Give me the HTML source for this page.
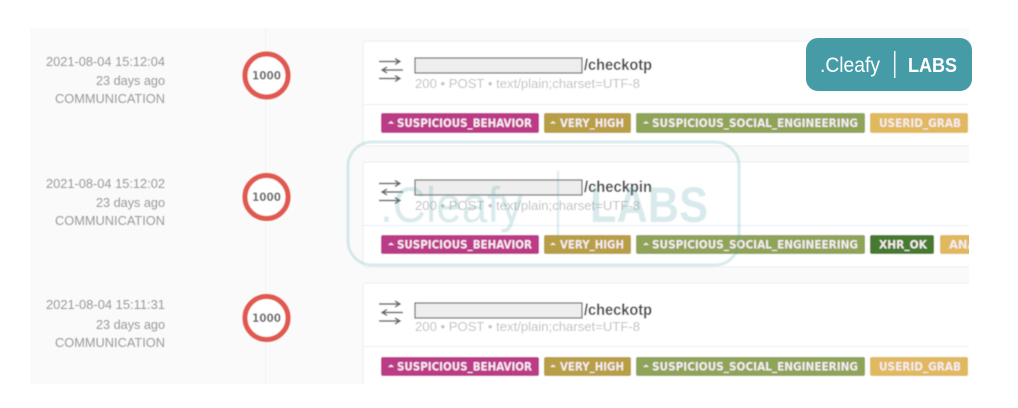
<!DOCTYPE html>
<html lang="en">
<head>
<meta charset="utf-8">
<style>
html,body{margin:0;padding:0;background:#fff;width:1018px;height:408px;overflow:hidden}
svg{display:block}
text{font-family:"Liberation Sans",sans-serif}
.meta{font-size:12.500px;fill:#9a9a9a;text-anchor:end}
.sub{font-size:13px;fill:#c2c2c2}
.url{font-size:15.500px;font-weight:bold;fill:#4a4a4a}
.tag{font-family:"DejaVu Sans",sans-serif;font-size:11.500px;font-weight:bold;fill:#f6ecf2}
.num{font-family:"DejaVu Sans",sans-serif;font-size:11.500px;font-weight:bold;fill:#666}
</style>
</head>
<body>
<svg width="1018" height="408" viewBox="0 0 1018 408" xmlns="http://www.w3.org/2000/svg">
<defs>
<filter id="b" x="-5%" y="-5%" width="110%" height="110%"><feGaussianBlur stdDeviation="0.55"/></filter>
<clipPath id="c"><rect x="30" y="28" width="939" height="356"/></clipPath>
</defs>
<rect x="30" y="28" width="939" height="356" fill="#fafafa"/>
<rect x="265" y="28" width="1" height="356" fill="#f3f3f3"/>
<g clip-path="url(#c)" filter="url(#b)">

<!-- Row 1 -->
<text class="meta" x="165" y="66" textLength="119" lengthAdjust="spacingAndGlyphs">2021-08-04 15:12:04</text>
<text class="meta" x="165" y="85" textLength="69" lengthAdjust="spacingAndGlyphs">23 days ago</text>
<text class="meta" x="165" y="103" textLength="110" lengthAdjust="spacingAndGlyphs">COMMUNICATION</text>
<circle cx="266.500" cy="75.500" r="21.500" fill="#fff" stroke="#e0594f" stroke-width="5"/>
<text class="num" x="266.500" y="79.500" text-anchor="middle" textLength="29" lengthAdjust="spacingAndGlyphs">1000</text>
<rect x="363" y="41" width="620" height="105" rx="3" fill="#fff" stroke="#ececec"/>
<line x1="363" y1="104.500" x2="969" y2="104.500" stroke="#e3eef8"/>
<g fill="none" stroke="#666" stroke-width="1.400">
<path d="M379 61.500H400M395 58.500L400 61.500L395 64.500"/>
<path d="M403 70H382M387 67L382 70L387 73"/>
<path d="M379 78.500H400M395 75.500L400 78.500L395 81.500"/>
</g>
<rect x="415" y="58" width="167" height="15" fill="#eee" stroke="#666" stroke-width="1.200"/>
<text class="url" x="584" y="70" textLength="68" lengthAdjust="spacingAndGlyphs">/checkotp</text>
<text class="sub" x="415" y="88" textLength="225" lengthAdjust="spacingAndGlyphs">200 • POST • text/plain;charset=UTF-8</text>
<rect x="381" y="113" width="158" height="20" rx="2" fill="#bb3a87"/>
<path d="M388 123.500l3-2.500 3 2.500z" fill="#f6ecf2"/><text class="tag" x="397" y="127" textLength="135" lengthAdjust="spacingAndGlyphs">SUSPICIOUS_BEHAVIOR</text>
<rect x="544" y="113" width="87" height="20" rx="2" fill="#b89f45"/>
<path d="M550 123.500l3-2.500 3 2.500z" fill="#f6ecf2"/><text class="tag" x="560" y="127" textLength="64" lengthAdjust="spacingAndGlyphs">VERY_HIGH</text>
<rect x="636" y="113" width="229" height="20" rx="2" fill="#8fa458"/>
<path d="M643 123.500l3-2.500 3 2.500z" fill="#f6ecf2"/><text class="tag" x="652" y="127" textLength="206" lengthAdjust="spacingAndGlyphs">SUSPICIOUS_SOCIAL_ENGINEERING</text>
<rect x="870" y="113" width="98" height="20" rx="2" fill="#e0b95e"/>
<text class="tag" x="879" y="127" textLength="82" lengthAdjust="spacingAndGlyphs">USERID_GRAB</text>

<!-- Row 2 -->
<text class="meta" x="165" y="188" textLength="119" lengthAdjust="spacingAndGlyphs">2021-08-04 15:12:02</text>
<text class="meta" x="165" y="207" textLength="69" lengthAdjust="spacingAndGlyphs">23 days ago</text>
<text class="meta" x="165" y="225" textLength="110" lengthAdjust="spacingAndGlyphs">COMMUNICATION</text>
<circle cx="266.500" cy="197" r="21.500" fill="#fff" stroke="#e0594f" stroke-width="5"/>
<text class="num" x="266.500" y="201" text-anchor="middle" textLength="29" lengthAdjust="spacingAndGlyphs">1000</text>
<rect x="363" y="162" width="620" height="105" rx="3" fill="#fff" stroke="#ececec"/>
<line x1="363" y1="225.500" x2="969" y2="225.500" stroke="#e3eef8"/>
<g fill="none" stroke="#666" stroke-width="1.400">
<path d="M379 183.500H400M395 180.500L400 183.500L395 186.500"/>
<path d="M403 192H382M387 189L382 192L387 195"/>
<path d="M379 200.500H400M395 197.500L400 200.500L395 203.500"/>
</g>
<rect x="415" y="180" width="167" height="15" fill="#eee" stroke="#666" stroke-width="1.200"/>
<text class="url" x="584" y="192" textLength="68" lengthAdjust="spacingAndGlyphs">/checkpin</text>
<text class="sub" x="415" y="210" textLength="225" lengthAdjust="spacingAndGlyphs">200 • POST • text/plain;charset=UTF-8</text>
<rect x="381" y="235" width="158" height="19" rx="2" fill="#bb3a87"/>
<path d="M388 245l3-2.500 3 2.500z" fill="#f6ecf2"/><text class="tag" x="397" y="248.500" textLength="135" lengthAdjust="spacingAndGlyphs">SUSPICIOUS_BEHAVIOR</text>
<rect x="544" y="235" width="87" height="19" rx="2" fill="#b89f45"/>
<path d="M550 245l3-2.500 3 2.500z" fill="#f6ecf2"/><text class="tag" x="560" y="248.500" textLength="64" lengthAdjust="spacingAndGlyphs">VERY_HIGH</text>
<rect x="636" y="235" width="229" height="19" rx="2" fill="#8fa458"/>
<path d="M643 245l3-2.500 3 2.500z" fill="#f6ecf2"/><text class="tag" x="652" y="248.500" textLength="206" lengthAdjust="spacingAndGlyphs">SUSPICIOUS_SOCIAL_ENGINEERING</text>
<rect x="870" y="235" width="64" height="19" rx="2" fill="#477a2e"/>
<text class="tag" x="879" y="248.500" textLength="48" lengthAdjust="spacingAndGlyphs">XHR_OK</text>
<rect x="940" y="235" width="40" height="19" rx="2" fill="#e0b95e"/>
<text class="tag" x="949" y="248.500">ANA</text>

<!-- Row 3 -->
<text class="meta" x="165" y="309" textLength="119" lengthAdjust="spacingAndGlyphs">2021-08-04 15:11:31</text>
<text class="meta" x="165" y="329" textLength="69" lengthAdjust="spacingAndGlyphs">23 days ago</text>
<text class="meta" x="165" y="347" textLength="110" lengthAdjust="spacingAndGlyphs">COMMUNICATION</text>
<circle cx="266.500" cy="318" r="21.500" fill="#fff" stroke="#e0594f" stroke-width="5"/>
<text class="num" x="266.500" y="322" text-anchor="middle" textLength="29" lengthAdjust="spacingAndGlyphs">1000</text>
<rect x="363" y="283" width="620" height="120" rx="3" fill="#fff" stroke="#ececec"/>
<line x1="363" y1="346.500" x2="969" y2="346.500" stroke="#e3eef8"/>
<g fill="none" stroke="#666" stroke-width="1.400">
<path d="M379 304H400M395 301L400 304L395 307"/>
<path d="M403 312.500H382M387 309.500L382 312.500L387 315.500"/>
<path d="M379 321H400M395 318L400 321L395 324"/>
</g>
<rect x="415" y="303" width="167" height="15" fill="#eee" stroke="#666" stroke-width="1.200"/>
<text class="url" x="584" y="315" textLength="68" lengthAdjust="spacingAndGlyphs">/checkotp</text>
<text class="sub" x="415" y="331" textLength="225" lengthAdjust="spacingAndGlyphs">200 • POST • text/plain;charset=UTF-8</text>
<rect x="381" y="357" width="158" height="19" rx="2" fill="#bb3a87"/>
<path d="M388 367l3-2.500 3 2.500z" fill="#f6ecf2"/><text class="tag" x="397" y="370.500" textLength="135" lengthAdjust="spacingAndGlyphs">SUSPICIOUS_BEHAVIOR</text>
<rect x="544" y="357" width="87" height="19" rx="2" fill="#b89f45"/>
<path d="M550 367l3-2.500 3 2.500z" fill="#f6ecf2"/><text class="tag" x="560" y="370.500" textLength="64" lengthAdjust="spacingAndGlyphs">VERY_HIGH</text>
<rect x="636" y="357" width="229" height="19" rx="2" fill="#8fa458"/>
<path d="M643 367l3-2.500 3 2.500z" fill="#f6ecf2"/><text class="tag" x="652" y="370.500" textLength="206" lengthAdjust="spacingAndGlyphs">SUSPICIOUS_SOCIAL_ENGINEERING</text>
<rect x="870" y="357" width="98" height="19" rx="2" fill="#e0b95e"/>
<text class="tag" x="879" y="370.500" textLength="82" lengthAdjust="spacingAndGlyphs">USERID_GRAB</text>
</g>

<!-- Watermark -->
<g filter="url(#b)" opacity="0.2">
<rect x="348" y="142" width="391" height="123" rx="24" fill="none" stroke="#469ca6" stroke-width="3"/>
<text x="380" y="222" font-size="50" fill="#469ca6" textLength="143" lengthAdjust="spacingAndGlyphs">.Cleafy</text>
<rect x="557" y="171" width="2" height="65" fill="#469ca6"/>
<text x="590" y="222" font-size="50" font-weight="bold" fill="#469ca6" textLength="118" lengthAdjust="spacingAndGlyphs">LABS</text>
</g>

<!-- Logo badge -->
<rect x="806" y="38" width="166" height="53" rx="12" fill="#469ca6"/>
<text x="820" y="72" font-size="21" fill="#fff" textLength="60" lengthAdjust="spacingAndGlyphs">.Cleafy</text>
<rect x="894" y="51" width="1.500" height="27" fill="#fff" opacity="0.9"/>
<text x="908" y="72" font-size="20" font-weight="bold" fill="#fff" textLength="49" lengthAdjust="spacingAndGlyphs">LABS</text>
</svg>
</body>
</html>
